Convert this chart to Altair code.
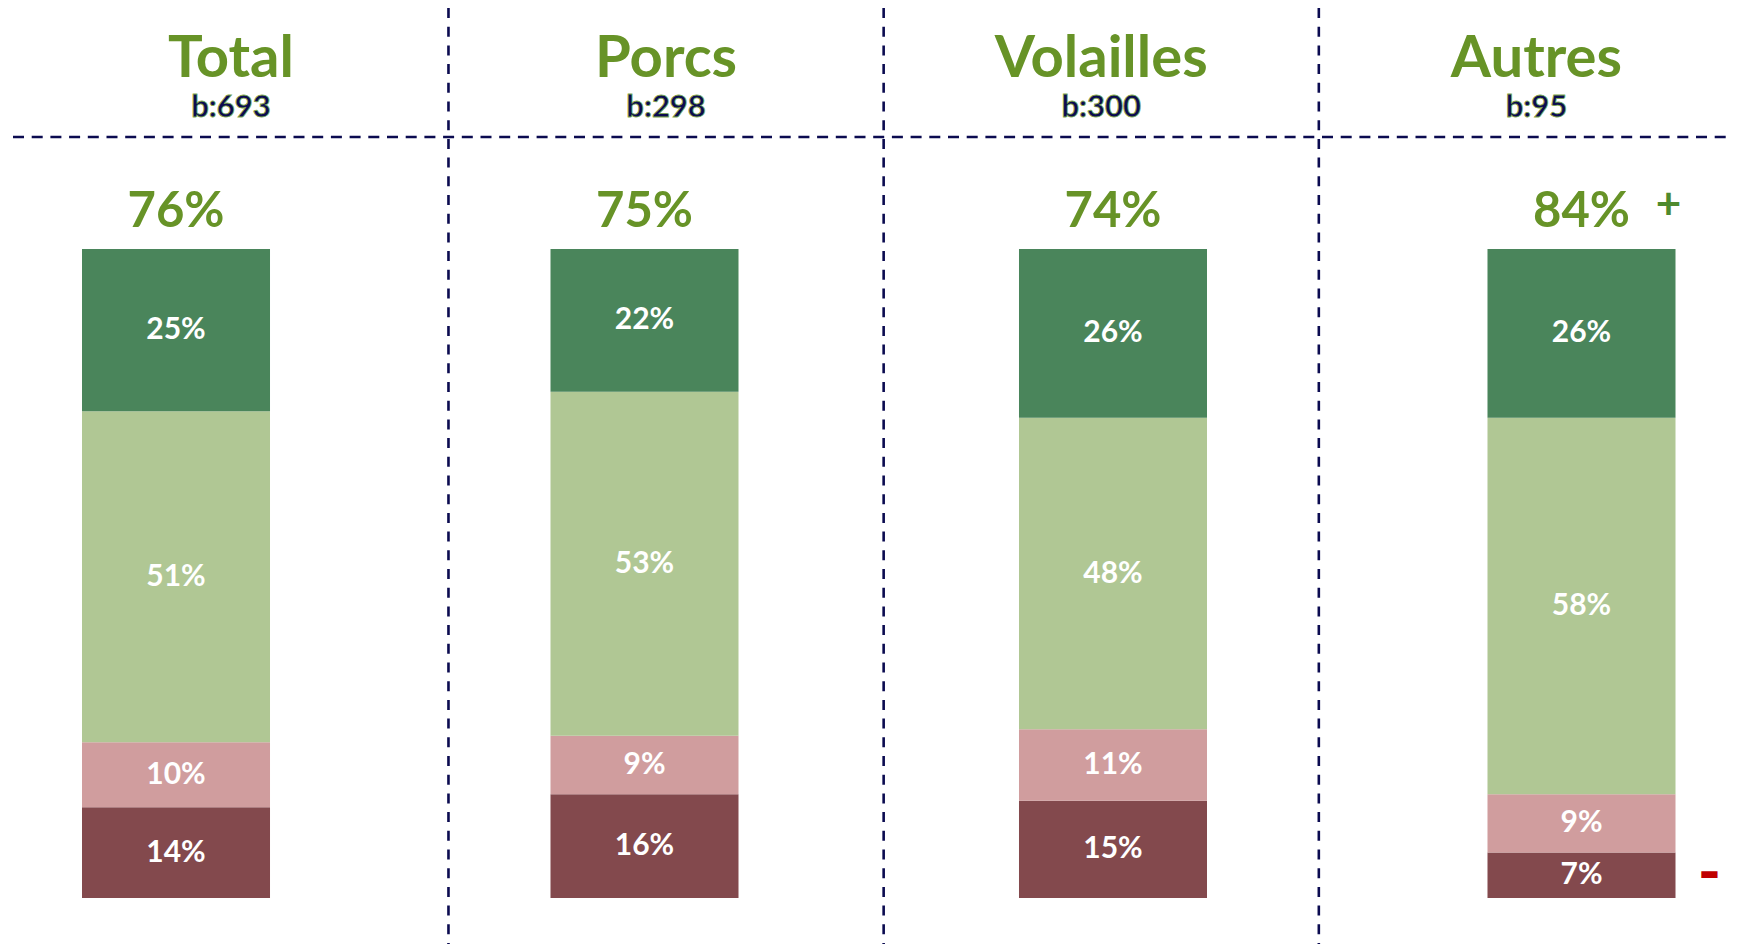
import altair as alt
import pandas as pd

# ---- data ----
groups = ["Total", "Porcs", "Volailles", "Autres"]
bases = ["b:693", "b:298", "b:300", "b:95"]
top_two = [76, 75, 74, 84]
top_signs = ["", "", "", "+"]
bottom_signs = ["", "", "", "–"]

seg_names = ["Pas du tout", "Plutôt pas", "Plutôt", "Tout à fait"]  # bottom -> top
seg_colors = ["#83494D", "#D09D9E", "#B0C794", "#4A855B"]
tout_a_fait = [25, 22, 26, 26]
plutot = [51, 53, 48, 58]
plutot_pas = [10, 9, 11, 9]
pas_du_tout = [14, 16, 15, 7]

# ---- tables ----
series = [pas_du_tout, plutot_pas, plutot, tout_a_fait]
rows = []
for i, g in enumerate(groups):
    for k, vals in enumerate(series):
        rows.append({
            "group": g, "seg": seg_names[k], "order": k, "pct": vals[i],
            "label": f"{vals[i]}%",
            "sign": bottom_signs[i] if k == 0 else "",
        })
seg_df = pd.DataFrame(rows)

top_df = pd.DataFrame({
    "group": groups,
    "label": [f"{v}%" for v in top_two],
    "sign": top_signs,
    "top": [sum(s[i] for s in series) for i in range(len(groups))],
})
head_df = pd.DataFrame({"group": groups, "base": bases})

W, H = 1725, 936
GREEN = "#679327"
NAVY = "#0B0B50"
FONT = "Lato"

xbar = alt.Scale(domain=groups, range=[74, 1667.5], paddingInner=0.5987, paddingOuter=0)
yscale = alt.Scale(domain=[0, 100], range=[890, 241])
xhead = alt.Scale(domain=groups, range=[5.3, 1746], paddingInner=0, paddingOuter=0)

base_seg = alt.Chart(seg_df).transform_stack(
    stack="pct", groupby=["group"], as_=["y0", "y1"],
    sort=[alt.SortField("order", order="ascending")],
).transform_calculate(mid="(datum.y0 + datum.y1) / 2")

bars = base_seg.mark_bar().encode(
    x=alt.X("group:N", scale=xbar, axis=None),
    y=alt.Y("y0:Q", scale=yscale, axis=None),
    y2="y1:Q",
    color=alt.Color("seg:N", scale=alt.Scale(domain=seg_names, range=seg_colors), legend=None),
)

seg_labels = base_seg.mark_text(
    font=FONT, fontWeight="bold", fontSize=30, color="white", baseline="middle"
).encode(
    x=alt.X("group:N", scale=xbar, axis=None),
    y=alt.Y("mid:Q", scale=yscale, axis=None),
    text="label:N",
)

minus = base_seg.transform_filter("datum.sign != ''").mark_text(
    font=FONT, fontWeight="bold", fontSize=30, color="#C00000",
    stroke="#C00000", strokeWidth=4, baseline="middle", dx=128, dy=0,
).encode(
    x=alt.X("group:N", scale=xbar, axis=None),
    y=alt.Y("mid:Q", scale=yscale, axis=None),
    text="sign:N",
)

top_labels = alt.Chart(top_df).mark_text(
    font=FONT, fontWeight="bold", fontSize=49, color=GREEN, baseline="alphabetic", dy=-22,
).encode(
    x=alt.X("group:N", scale=xbar, axis=None),
    y=alt.Y("top:Q", scale=yscale, axis=None),
    text="label:N",
)

plus = alt.Chart(top_df).transform_filter("datum.sign != ''").mark_text(
    font=FONT, fontWeight="bold", fontSize=44, color="#4E8A2E", baseline="middle", dx=87, dy=-43,
).encode(
    x=alt.X("group:N", scale=xbar, axis=None),
    y=alt.Y("top:Q", scale=yscale, axis=None),
    text="sign:N",
)

bar_layer = alt.layer(bars, seg_labels, minus, top_labels, plus)

titles = alt.Chart(head_df).mark_text(
    font=FONT, fontWeight="bold", fontSize=58, color=GREEN, baseline="alphabetic",
).encode(
    x=alt.X("group:N", scale=xhead, axis=None),
    y=alt.value(69),
    text="group:N",
)

counts = alt.Chart(head_df).mark_text(
    font=FONT, fontWeight="bold", fontSize=31, color=NAVY, baseline="alphabetic",
    stroke="#7FA84A", strokeWidth=0.8,
).encode(
    x=alt.X("group:N", scale=xhead, axis=None),
    y=alt.value(109),
    text="base:N",
)

vlines = alt.Chart(head_df).transform_filter("datum.group != 'Total'").mark_rule(
    color=NAVY, strokeWidth=2.6, strokeDash=[10, 8.7],
).encode(
    x=alt.X("group:N", scale=xhead, axis=None, bandPosition=0),
    y=alt.value(0),
    y2=alt.value(H),
)

hline = alt.Chart(head_df).transform_filter("datum.group == 'Total'").mark_rule(
    color=NAVY, strokeWidth=2.6, strokeDash=[11, 7.7],
).encode(
    x=alt.value(5),
    x2=alt.value(W),
    y=alt.value(129),
)

head_layer = alt.layer(titles, counts, vlines, hline)

chart = alt.layer(bar_layer, head_layer).resolve_scale(x="independent").properties(
    width=W, height=H,
    autosize=alt.AutoSizeParams(type="none"),
    padding=0,
).configure_view(strokeWidth=0, stroke=None)

chart.save("out.html", embed_options={"renderer": "svg", "actions": False})
